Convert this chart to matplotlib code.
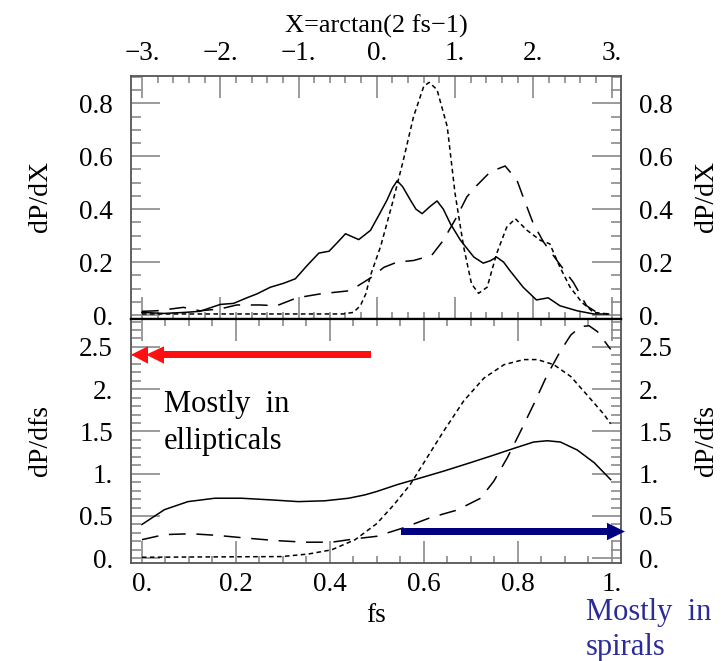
import matplotlib
matplotlib.use('Agg')
import matplotlib.pyplot as plt
from matplotlib.patches import Polygon, Rectangle
from matplotlib.ticker import MultipleLocator, FuncFormatter

plt.rcParams['font.family'] = ['Liberation Serif', 'DejaVu Serif']

W, H = 723, 661

# upper panel: dP/dX against X = arctan(2 fs - 1)
x_top_solid = [-3.00, -2.72, -2.45, -2.26, -2.00, -1.83, -1.66, -1.53, -1.36, -1.19,
               -1.04, -0.89, -0.74, -0.61, -0.50, -0.40, -0.23, -0.08, 0.05, 0.13,
               0.20, 0.26, 0.33, 0.43, 0.50, 0.58, 0.68, 0.77, 0.85, 0.94,
               1.07, 1.24, 1.36, 1.45, 1.53, 1.62, 1.70, 1.87, 2.04, 2.19,
               2.34, 2.56, 2.77, 2.96]
y_top_solid = [0.010, 0.006, 0.010, 0.014, 0.040, 0.044, 0.065, 0.080, 0.105, 0.120,
               0.137, 0.187, 0.234, 0.241, 0.275, 0.307, 0.285, 0.320, 0.390, 0.434,
               0.480, 0.507, 0.485, 0.434, 0.400, 0.383, 0.410, 0.431, 0.400, 0.345,
               0.282, 0.219, 0.196, 0.205, 0.219, 0.200, 0.168, 0.105, 0.057, 0.065,
               0.035, 0.016, 0.004, 0.004]

x_top_dot = [-3.00, -0.43, -0.30, -0.21, -0.14, -0.08, 0.05, 0.21, 0.34, 0.47,
             0.60, 0.67, 0.77, 0.90, 1.00, 1.11, 1.21, 1.30, 1.41, 1.53,
             1.66, 1.77, 1.92, 2.09, 2.21, 2.34, 2.47, 2.62, 2.77, 2.96]
y_top_dot = [0.004, 0.004, 0.010, 0.035, 0.080, 0.150, 0.260, 0.434, 0.586, 0.750,
             0.864, 0.879, 0.851, 0.712, 0.459, 0.257, 0.118, 0.082, 0.105, 0.231,
             0.332, 0.364, 0.320, 0.282, 0.269, 0.181, 0.105, 0.048, 0.010, 0.004]

x_top_dash = [-3.00, -2.81, -2.47, -2.26, -2.00, -1.79, -1.49, -1.28, -1.02, -0.72,
              -0.34, -0.08, 0.09, 0.26, 0.47, 0.70, 0.85, 1.02, 1.15, 1.28,
              1.45, 1.64, 1.79, 1.87, 2.00, 2.13, 2.24, 2.38, 2.51, 2.68,
              2.81, 2.96]
y_top_dash = [0.014, 0.016, 0.029, 0.016, 0.023, 0.038, 0.038, 0.035, 0.065, 0.080,
              0.092, 0.140, 0.180, 0.200, 0.206, 0.225, 0.282, 0.370, 0.446, 0.490,
              0.541, 0.563, 0.510, 0.446, 0.345, 0.276, 0.231, 0.175, 0.124, 0.035,
              0.010, 0.004]

# lower panel: dP/dfs against fs
fs_solid = [0.000, 0.048, 0.098, 0.155, 0.212, 0.276, 0.333, 0.390, 0.440, 0.475,
            0.500, 0.543, 0.593, 0.642, 0.699, 0.749, 0.792, 0.834, 0.863, 0.891,
            0.927, 0.963, 0.998]
p_solid = [0.40, 0.575, 0.67, 0.71, 0.71, 0.69, 0.67, 0.68, 0.71, 0.75,
           0.79, 0.87, 0.95, 1.03, 1.13, 1.22, 1.30, 1.375, 1.39, 1.375,
           1.28, 1.13, 0.93]

fs_dot = [0.000, 0.297, 0.354, 0.404, 0.454, 0.500, 0.536, 0.571, 0.607, 0.642,
          0.685, 0.728, 0.771, 0.813, 0.842, 0.877, 0.913, 0.948, 0.984, 0.998]
p_dot = [0.012, 0.020, 0.050, 0.10, 0.22, 0.41, 0.63, 0.87, 1.19, 1.50,
         1.86, 2.13, 2.29, 2.35, 2.35, 2.29, 2.15, 1.93, 1.70, 1.59]

fs_dash = [0.000, 0.048, 0.105, 0.162, 0.219, 0.283, 0.347, 0.404, 0.454, 0.500,
           0.557, 0.614, 0.671, 0.721, 0.749, 0.778, 0.806, 0.834, 0.863, 0.891,
           0.913, 0.934, 0.952, 0.970, 0.998]
p_dash = [0.22, 0.28, 0.29, 0.27, 0.24, 0.21, 0.19, 0.19, 0.23, 0.26,
          0.36, 0.48, 0.57, 0.71, 0.91, 1.19, 1.50, 1.82, 2.17, 2.45,
          2.64, 2.74, 2.75, 2.68, 2.47]

X_ticks = [-3, -2, -1, 0, 1, 2, 3]
fs_ticks = [0, 0.2, 0.4, 0.6, 0.8, 1.0]


def num_label(v, pos=None):
    if abs(v - round(v)) < 1e-9:
        s = '%d.' % round(v)
    else:
        s = '%g' % v
    return s.replace('-', '\u2212')


def fig_xy(x, y):
    # pixel position -> figure fraction
    return x / W, 1 - y / H


DOT = (0, (3.0, 2.2))
DASH = (0, (11, 7))
TICK_COL = '#8a8a8a'
LAB = 19.5

fig = plt.figure(figsize=(W / 100, H / 100), dpi=100)
ax1 = fig.add_axes([131 / W, 1 - 319 / H, 490 / W, 243 / H])
ax2 = fig.add_axes([131 / W, 1 - 563 / H, 490 / W, 244 / H])

ax1.plot(x_top_solid, y_top_solid, color='black', lw=1.1)
ax1.plot(x_top_dot, y_top_dot, color='black', lw=1.1, linestyle=DOT)
ax1.plot(x_top_dash, y_top_dash, color='black', lw=1.1, linestyle=DASH)
ax1.set_xlim(-3.14, 3.12)
ax1.set_ylim(-0.015, 0.903)
ax1.set_xticks(X_ticks)
ax1.xaxis.set_minor_locator(MultipleLocator(0.2))
ax1.yaxis.set_major_locator(MultipleLocator(0.2))
ax1.yaxis.set_minor_locator(MultipleLocator(0.05))

ax2.plot(fs_solid, p_solid, color='black', lw=1.1)
ax2.plot(fs_dot, p_dot, color='black', lw=1.1, linestyle=DOT)
ax2.plot(fs_dash, p_dash, color='black', lw=1.1, linestyle=DASH)
ax2.set_xlim(-0.0233, 1.02)
ax2.set_ylim(-0.056, 2.83)
ax2.set_xticks(fs_ticks)
ax2.xaxis.set_minor_locator(MultipleLocator(0.05))
ax2.yaxis.set_major_locator(MultipleLocator(0.5))
ax2.yaxis.set_minor_locator(MultipleLocator(0.1))

for ax in (ax1, ax2):
    ax.xaxis.set_major_formatter(FuncFormatter(num_label))
    ax.yaxis.set_major_formatter(FuncFormatter(num_label))
    ax.tick_params(which='both', direction='in', top=True, bottom=True,
                   left=True, right=True, color=TICK_COL, width=1.2,
                   labelleft=True, labelright=True, labelsize=LAB)
    ax.tick_params(axis='y', which='major', length=21, pad=13)
    ax.tick_params(axis='y', which='minor', length=7)
    ax.tick_params(axis='x', which='major', length=16)
    ax.tick_params(axis='x', which='minor', length=5)
    for side in ('left', 'right', 'top', 'bottom'):
        ax.spines[side].set_color('#555555')
        ax.spines[side].set_linewidth(1.3)

ax1.tick_params(axis='x', labeltop=True, labelbottom=False, pad=7)
ax2.tick_params(axis='x', labeltop=False, labelbottom=True, pad=6.5)
ax1.spines['bottom'].set_color('black')
ax1.spines['bottom'].set_linewidth(1.6)
ax2.spines['top'].set_color('black')
ax2.spines['top'].set_linewidth(1.6)

# axis titles
fig.text(*fig_xy(376, 33), 'X=arctan(2 fs\u22121)', ha='center', va='baseline',
         fontsize=19)
fig.text(*fig_xy(376, 622), 'fs', ha='center', va='baseline', fontsize=19.5)
for y_mid, name in ((197, 'dP/dX'), (441, 'dP/dfs')):
    fig.text(*fig_xy(40, y_mid), name, rotation=90, ha='center', va='center',
             fontsize=20)
    fig.text(*fig_xy(707, y_mid), name, rotation=90, ha='center', va='center',
             fontsize=20)

# red arrow towards fs = 0 (double head)
red = '#ff1010'
x0, y0 = fig_xy(158, 358)
x1, y1 = fig_xy(370.5, 351.3)
fig.add_artist(Rectangle((x0, y0), x1 - x0, y1 - y0, color=red,
                         transform=fig.transFigure, lw=0))
for tip, base in ((131, 148), (146, 164)):
    fig.add_artist(Polygon([fig_xy(tip, 354.7), fig_xy(base, 346.3),
                            fig_xy(base, 363.7)], closed=True, color=red,
                           transform=fig.transFigure, lw=0))

# blue arrow towards fs = 1
navy = '#000080'
x0, y0 = fig_xy(401, 534.8)
x1, y1 = fig_xy(609, 528.3)
fig.add_artist(Rectangle((x0, y0), x1 - x0, y1 - y0, color=navy,
                         transform=fig.transFigure, lw=0))
fig.add_artist(Polygon([fig_xy(625, 531.5), fig_xy(607, 522.8),
                        fig_xy(607, 540.2)], closed=True, color=navy,
                       transform=fig.transFigure, lw=0))

fig.text(*fig_xy(164, 412), 'Mostly  in', fontsize=22, va='baseline')
fig.text(*fig_xy(164, 448.7), 'ellipticals', fontsize=22, va='baseline')
fig.text(*fig_xy(586, 620), 'Mostly  in', fontsize=22, va='baseline',
         color='#2c2c98')
fig.text(*fig_xy(586, 655), 'spirals', fontsize=22, va='baseline',
         color='#2c2c98')

fig.savefig('out.png', dpi=100)
